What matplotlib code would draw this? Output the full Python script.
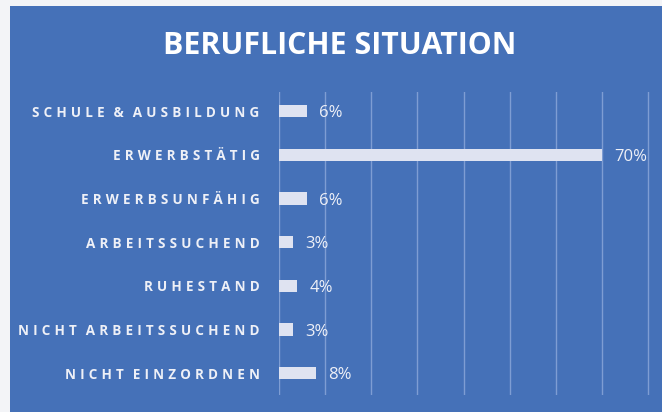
import matplotlib
matplotlib.use("Agg")
import matplotlib.pyplot as plt
from matplotlib.patches import Rectangle

categories = ["SCHULE & AUSBILDUNG", "ERWERBSTÄTIG", "ERWERBSUNFÄHIG",
              "ARBEITSSUCHEND", "RUHESTAND", "NICHT ARBEITSSUCHEND",
              "NICHT EINZORDNEN"]
values = [6, 70, 6, 3, 4, 3, 8]
title = "BERUFLICHE SITUATION"

FAM = ["Open Sans", "DejaVu Sans"]
BLUE = "#4571b8"
BAR = "#dfe3f1"
TXT = "#eef0f7"
GRID = "#7e9dd3"


def spaced(s):
    words = s.split(" ")
    return "\u2009\u2009 ".join("\u2009\u200a".join(w) for w in words)


fig = plt.figure(figsize=(6.62, 4.12), dpi=100)
fig.patch.set_facecolor("#f3f4f7")
fig.patches.append(Rectangle((10 / 662, 0), 1 - 10 / 662, 1 - 6 / 412,
                             transform=fig.transFigure, facecolor=BLUE,
                             edgecolor="none", zorder=-5))

ax = fig.add_axes([279 / 662, 1 - 395 / 412, 1 - 279 / 662, (395 - 92) / 412])
ax.set_zorder(2)
ax.set_facecolor("none")
ypos = list(range(len(categories)))
ax.barh(ypos, values, height=0.28, color=BAR, zorder=3)
ax.set_xlim(0, 83)
ax.set_ylim(6.5, -0.44)
ax.set_xticks(range(0, 81, 10))
ax.grid(axis="x", color=GRID, lw=1, zorder=1)
ax.tick_params(axis="x", length=0, labelbottom=False)
ax.tick_params(axis="y", length=0, pad=14)
ax.set_yticks(ypos)
ax.set_yticklabels([spaced(c) for c in categories], family=FAM,
                   fontweight="bold", fontsize=9.75, color=TXT)
for s in ax.spines.values():
    s.set_visible(False)

for y, v in zip(ypos, values):
    ax.annotate(f"{v}%", xy=(v, y), xytext=(9, 0), textcoords="offset points",
                ha="left", va="center_baseline", family=FAM, fontsize=12,
                color=TXT, zorder=4)

fig.text(340 / 662, 1 - 46 / 412, title, ha="center", va="center",
         family=FAM, fontweight="bold", fontsize=21.8, color="#ffffff",
         zorder=3)

fig.savefig("out.png", dpi=100, facecolor=fig.get_facecolor())
